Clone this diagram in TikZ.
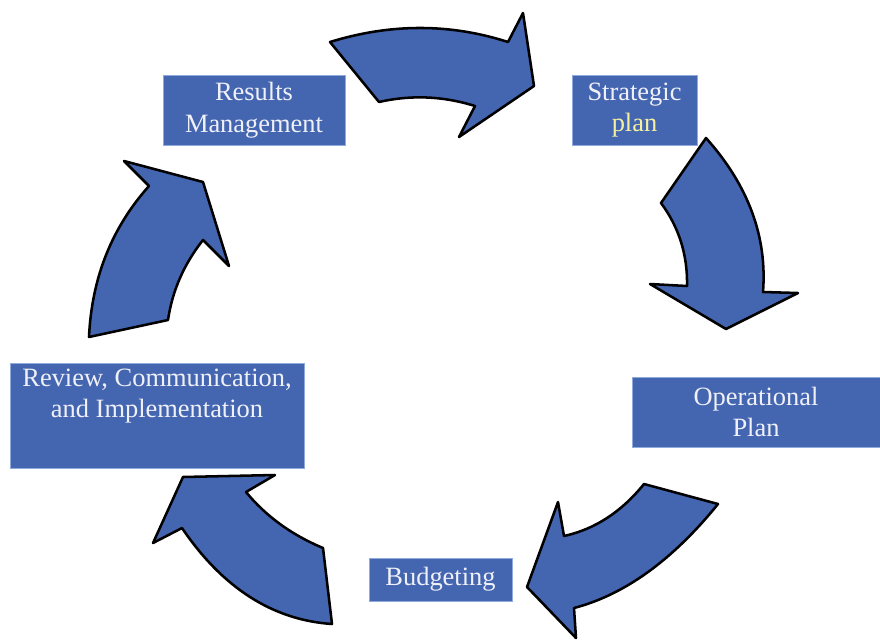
\documentclass[tikz,border=0pt]{standalone}
\usepackage{fontspec}
\setmainfont{Liberation Serif}
\usepackage{tikz}

\definecolor{boxblue}{RGB}{68,102,176}
\definecolor{boxline}{RGB}{143,170,220}
\definecolor{txtwhite}{RGB}{240,240,248}
\definecolor{txtyellow}{RGB}{245,240,160}

\begin{document}
\begin{tikzpicture}[x=0.025cm,y=-0.025cm,
	box/.style={fill=boxblue,draw=boxline,line width=0.6pt,inner sep=0pt},
	boxtext/.style={text=txtwhite,align=center,inner sep=0pt,font=\fontsize{18.8}{22.4}\selectfont},
	cyclearrow/.style={fill=boxblue,draw=black,line width=1.8pt,line join=round}]

	\useasboundingbox (0,0) rectangle (880,639);

	% boxes
	\node[box,boxtext,minimum width=4.55cm,minimum height=1.75cm] (results) at (254,110) {Results\\Management};
	\node[box,boxtext,minimum width=3.125cm,minimum height=1.75cm] (strategic) at (634.5,110) {Strategic\\\textcolor{txtyellow}{plan}};
	\node[box,boxtext,minimum width=6.2cm,minimum height=1.75cm] (operational) at (756,412) {Operational\\Plan};
	\node[box,boxtext,minimum width=3.575cm,minimum height=1.075cm] (budgeting) at (440.5,579.5) {Budgeting};
	\node[box,minimum width=7.35cm,minimum height=2.625cm,anchor=north] (review) at (157,363) {};
	\node[boxtext] (reviewtext) at (157,396) {Review, Communication,\\and Implementation};

	% arrows
	\draw[cyclearrow] (330,42) .. controls (390.7,23.3) and (450,23.3) .. (508,42) -- (523,13) -- (534,86) -- (459,137)
		-- (475,106) .. controls (443,96) and (411,94.7) .. (379,102) -- cycle;
	\draw[cyclearrow] (763,292) .. controls (767.3,236.7) and (748.3,185.3) .. (706,138) -- (661,203)
		.. controls (679,227.3) and (687.7,255) .. (687,286) -- (650,284) -- (726,329) -- (798,293) -- cycle;
	\draw[cyclearrow] (718,504) .. controls (672.7,560) and (624.7,594.7) .. (574,608) -- (576,638) -- (527,587) -- (558,502)
		-- (564,536) .. controls (594.7,529.3) and (621.3,512) .. (644,484) -- cycle;
	\draw[cyclearrow] (182,528) .. controls (222.7,588) and (272.7,620) .. (332,624) -- (323,548)
		.. controls (291.3,534.7) and (265.7,516) .. (246,492) -- (275,475) -- (183,477) -- (153,543) -- cycle;
	\draw[cyclearrow] (149,186) .. controls (111.7,227.7) and (91.7,278) .. (89,337) -- (168,320)
		.. controls (172.3,290.7) and (184,264) .. (203,240) -- (229,266) -- (203,182) -- (124,161) -- cycle;

\end{tikzpicture}
\end{document}
